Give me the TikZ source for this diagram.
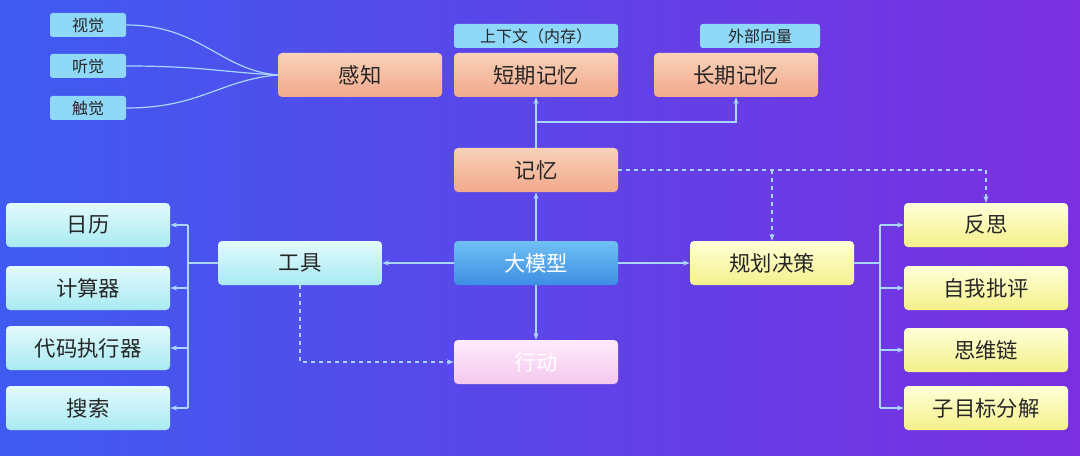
\documentclass[tikz,border=0pt]{standalone}
\usepackage{fontspec}
\setmainfont{Noto Sans CJK SC}
\usetikzlibrary{arrows.meta}
\definecolor{bgL}{HTML}{3F5BF0}
\definecolor{bgR}{HTML}{7A2FE0}
\definecolor{ln}{HTML}{A9D6FF}
\definecolor{tag}{HTML}{8FD8F8}
\definecolor{salA}{HTML}{F8D2B8}
\definecolor{salB}{HTML}{F2A88C}
\definecolor{cyA}{HTML}{E2FAFC}
\definecolor{cyB}{HTML}{A8EAF2}
\definecolor{yeA}{HTML}{FFFFD8}
\definecolor{yeB}{HTML}{F4F08A}
\definecolor{bluA}{HTML}{6FC0F4}
\definecolor{bluB}{HTML}{3E8EE4}
\definecolor{pkA}{HTML}{FFEAFB}
\definecolor{pkB}{HTML}{F4C8EE}
\begin{document}
\begin{tikzpicture}[x=0.75pt,y=-0.75pt,
 box/.style={rounded corners=3pt,minimum width=123pt,minimum height=33pt,inner sep=0pt,font=\fontsize{16}{18}\selectfont},
 sal/.style={box,top color=salA,bottom color=salB,text=black!85},
 cy/.style={box,top color=cyA,bottom color=cyB,text=black!85},
 ye/.style={box,top color=yeA,bottom color=yeB,text=black!85},
 blu/.style={box,top color=bluA,bottom color=bluB,text=white},
 pk/.style={box,top color=pkA,bottom color=pkB,text=white},
 tg/.style={rounded corners=2pt,fill=tag,minimum height=18pt,inner sep=0pt,font=\fontsize{12}{14}\selectfont,text=black!85},
 con/.style={draw=ln,line width=0.9pt},
 arr/.style={con,-{Stealth[length=5pt]}},
 dsh/.style={arr,dashed}]
\shade[left color=bgL,right color=bgR] (0,0) rectangle (1080,456);
\useasboundingbox (0,0) rectangle (1080,456);
% tags
\node[tg,minimum width=57pt] (vis) at (88,25) {视觉};
\node[tg,minimum width=57pt] (aud) at (88,66) {听觉};
\node[tg,minimum width=57pt] (tac) at (88,108) {触觉};
\node[tg,minimum width=123pt] (ctx) at (536,36) {上下文（内存）};
\node[tg,minimum width=90pt] (ext) at (760,36) {外部向量};
% main
\node[sal] (per) at (360,75) {感知};
\node[sal] (stm) at (536,75) {短期记忆};
\node[sal] (ltm) at (736,75) {长期记忆};
\node[sal] (mem) at (536,170) {记忆};
\node[blu] (llm) at (536,263) {大模型};
\node[cy] (tool) at (300,263) {工具};
\node[ye] (plan) at (772,263) {规划决策};
\node[pk] (act) at (536,362) {行动};
\node[cy] (cal) at (88,225) {日历};
\node[cy] (calc) at (88,288) {计算器};
\node[cy] (code) at (88,348) {代码执行器};
\node[cy] (srch) at (88,408) {搜索};
\node[ye] (refl) at (986,225) {反思};
\node[ye] (crit) at (986,288) {自我批评};
\node[ye] (cot) at (986,350) {思维链};
\node[ye] (sub) at (986,408) {子目标分解};
% curves to perception
\draw[con] (vis.east) .. controls (200,25) and (220,70) .. (per.west);
\draw[con] (aud.east) .. controls (200,66) and (220,72) .. (per.west);
\draw[con] (tac.east) .. controls (200,108) and (220,80) .. (per.west);
% memory
\coordinate (mb) at (536,122);
\draw[arr] (mem.north) -- (stm.south);
\draw[arr] (mb) -| (ltm.south);
\draw[arr] (llm.north) -- (mem.south);
\draw[arr] (llm.west) -- (tool.east);
\draw[arr] (llm.east) -- (plan.west);
\draw[arr] (llm.south) -- (act.north);
% tool bus
\coordinate (tb) at (188,263);
\draw[con] (tool.west) -- (tb);
\draw[con] (188,225) -- (188,408);
\foreach \n in {cal,calc,code,srch} \draw[arr] (188,0 |- \n.east) -- (\n.east);
% plan bus
\coordinate (pb) at (880,263);
\draw[con] (plan.east) -- (pb);
\draw[con] (880,225) -- (880,408);
\foreach \n in {refl,crit,cot,sub} \draw[arr] (880,0 |- \n.west) -- (\n.west);
% dashed
\draw[dsh] (mem.east) -| (refl.north);
\draw[dsh] (772,170) -- (plan.north);
\draw[dsh] (tool.south) |- (act.west);
\end{tikzpicture}
\end{document}
